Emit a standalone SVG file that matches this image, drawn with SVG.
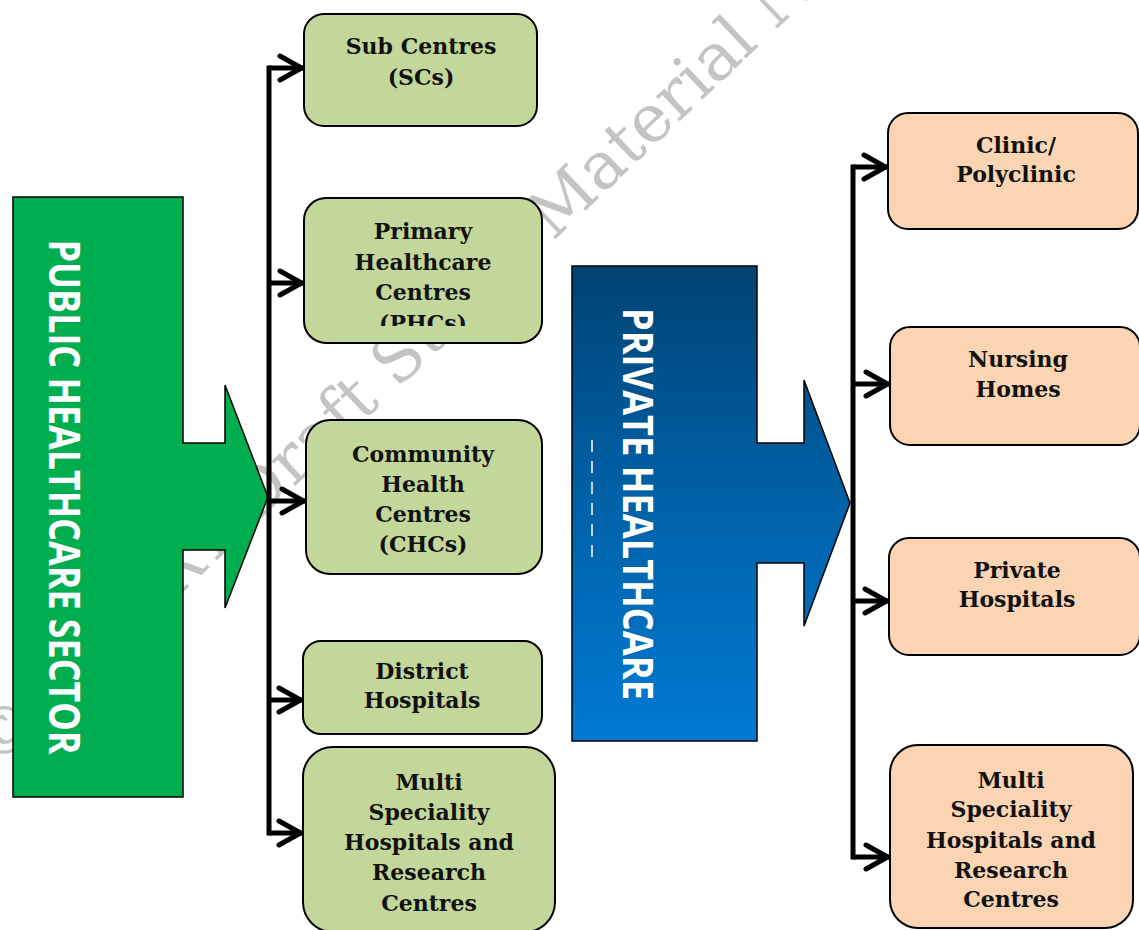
<svg xmlns="http://www.w3.org/2000/svg" width="1139" height="930" viewBox="0 0 1139 930">
<style>
.bg{fill:#ffffff}
.wm{font-family:"DejaVu Serif","Liberation Serif",serif;font-size:66px;fill:#c4c4c4}
.pub{fill:#C4D79B;stroke:#000;stroke-width:2}
.pri{fill:#FBD4B4;stroke:#000;stroke-width:2}
.lbl{font-family:"DejaVu Serif","Liberation Serif",serif;font-weight:bold;font-size:22px;fill:#111;text-anchor:middle}
.big{font-family:"Open Sans","Noto Sans","Liberation Sans",sans-serif;font-weight:bold;fill:#fff;text-anchor:middle}
.trunk{fill:none;stroke:#000;stroke-width:5;stroke-linecap:square}
.br{fill:none;stroke:#000;stroke-width:5;marker-end:url(#chev)}
</style>
<defs>
<marker id="chev" viewBox="0 0 34 30" markerWidth="34" markerHeight="30" refX="30" refY="15" orient="auto" markerUnits="userSpaceOnUse">
<path d="M6,3 L27.5,15 L6,27" fill="none" stroke="#000" stroke-width="5" stroke-linecap="round" stroke-linejoin="round"/>
</marker>
<linearGradient id="blue" gradientUnits="userSpaceOnUse" x1="0" y1="266" x2="0" y2="741">
<stop offset="0" stop-color="#004373"/>
<stop offset="0.5" stop-color="#0062A8"/>
<stop offset="1" stop-color="#007AD2"/>
</linearGradient>
<clipPath id="phcclip"><rect x="300" y="195" width="250" height="131"/></clipPath>
</defs>
<rect class="bg" x="0" y="0" width="1139" height="930"/>
<text class="wm" transform="translate(-4,770) rotate(-43.5)">© NCERT Draft Study Material Not</text>

<g id="public-sector">
<path d="M13,197 H183 V443 H225 V385 L268,497 L225,608 V550 H183 V797 H13 Z" fill="#00AD4F" stroke="#000" stroke-width="1.5"/>
<text class="big" font-size="43" transform="translate(64,497) rotate(90)" x="0" y="15.5" textLength="515" lengthAdjust="spacingAndGlyphs">PUBLIC HEALTHCARE SECTOR</text>
</g>

<g id="private-sector">
<path d="M572,266 H757 V443 H804 V380 L850,503 L804,626 V563 H757 V741 H572 Z" fill="url(#blue)" stroke="#000" stroke-width="1.5"/>
<text class="big" font-size="41" transform="translate(637,504) rotate(90)" x="0" y="14.5" textLength="392" lengthAdjust="spacingAndGlyphs">PRIVATE HEALTHCARE</text>
<line x1="592" y1="440" x2="592" y2="565" stroke="#fff" stroke-width="1.5" stroke-dasharray="12,9"/>
</g>

<g id="connectors">
<path class="trunk" d="M269,68 V833"/>
<path class="br" d="M269,68 H304"/>
<path class="br" d="M269,283 H304"/>
<path class="br" d="M269,501 H306"/>
<path class="br" d="M269,700 H303"/>
<path class="br" d="M269,833 H303"/>
<path class="trunk" d="M853,167 V857"/>
<path class="br" d="M853,167 H888"/>
<path class="br" d="M853,384 H890"/>
<path class="br" d="M853,601 H889"/>
<path class="br" d="M853,857 H890"/>
</g>

<g id="sub-centres">
<rect class="pub" x="304" y="14" width="233" height="112" rx="20"/>
<text class="lbl" x="421" y="54">Sub Centres</text>
<text class="lbl" x="421" y="85">(SCs)</text>
</g>
<g id="phc">
<rect class="pub" x="304" y="198" width="238" height="145" rx="22"/>
<g clip-path="url(#phcclip)">
<text class="lbl" x="423" y="239">Primary</text>
<text class="lbl" x="423" y="270">Healthcare</text>
<text class="lbl" x="423" y="300">Centres</text>
<text class="lbl" x="423" y="331">(PHCs)</text>
</g>
</g>
<g id="chc">
<rect class="pub" x="306" y="420" width="236" height="154" rx="24"/>
<text class="lbl" x="423" y="462">Community</text>
<text class="lbl" x="423" y="492">Health</text>
<text class="lbl" x="423" y="522">Centres</text>
<text class="lbl" x="423" y="552">(CHCs)</text>
</g>
<g id="district">
<rect class="pub" x="303" y="641" width="239" height="93" rx="18"/>
<text class="lbl" x="422" y="679">District</text>
<text class="lbl" x="422" y="708">Hospitals</text>
</g>
<g id="multi-public">
<rect class="pub" x="303" y="747" width="252" height="185" rx="30"/>
<text class="lbl" x="429" y="790">Multi</text>
<text class="lbl" x="429" y="820">Speciality</text>
<text class="lbl" x="429" y="850">Hospitals and</text>
<text class="lbl" x="429" y="880">Research</text>
<text class="lbl" x="429" y="911">Centres</text>
</g>

<g id="clinic">
<rect class="pri" x="888" y="113" width="250" height="116" rx="20"/>
<text class="lbl" x="1016" y="153">Clinic/</text>
<text class="lbl" x="1016" y="182">Polyclinic</text>
</g>
<g id="nursing">
<rect class="pri" x="890" y="327" width="250" height="118" rx="20"/>
<text class="lbl" x="1018" y="367">Nursing</text>
<text class="lbl" x="1018" y="397">Homes</text>
</g>
<g id="private-hospitals">
<rect class="pri" x="889" y="538" width="251" height="117" rx="20"/>
<text class="lbl" x="1017" y="578">Private</text>
<text class="lbl" x="1017" y="607">Hospitals</text>
</g>
<g id="multi-private">
<rect class="pri" x="890" y="745" width="243" height="183" rx="28"/>
<text class="lbl" x="1011" y="788">Multi</text>
<text class="lbl" x="1011" y="817">Speciality</text>
<text class="lbl" x="1011" y="848">Hospitals and</text>
<text class="lbl" x="1011" y="878">Research</text>
<text class="lbl" x="1011" y="907">Centres</text>
</g>
</svg>
